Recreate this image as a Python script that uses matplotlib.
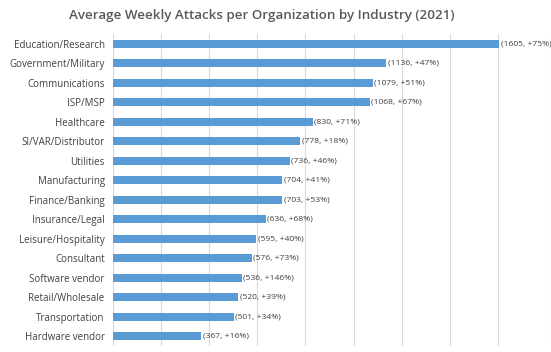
import matplotlib.pyplot as plt

industries = ["Education/Research", "Government/Military", "Communications", "ISP/MSP",
              "Healthcare", "SI/VAR/Distributor", "Utilities", "Manufacturing",
              "Finance/Banking", "Insurance/Legal", "Leisure/Hospitality", "Consultant",
              "Software vendor", "Retail/Wholesale", "Transportation", "Hardware vendor"]
attacks = [1605, 1136, 1079, 1068, 830, 778, 736, 704, 703, 636, 595, 576, 536, 520, 501, 367]
growth = ["+75%", "+47%", "+51%", "+67%", "+71%", "+18%", "+46%", "+41%",
          "+53%", "+68%", "+40%", "+73%", "+146%", "+39%", "+34%", "+16%"]

plt.rcParams['font.family'] = ['Open Sans', 'DejaVu Sans']

fig = plt.figure(figsize=(5.51, 3.52), dpi=100)
ax = fig.add_axes([113 / 551, 6 / 352, 433 / 551, 312 / 352])

y = list(range(len(industries)))
ax.barh(y, attacks, height=0.4, color='#5B9BD5', zorder=2)

for yi, v, g in zip(y, attacks, growth):
    ax.text(v + 6, yi, f"({v}, {g})", va='center', ha='left', fontsize=6.1, color='#404040', zorder=3)

ax.set_xlim(0, 1800)
ax.set_ylim(len(industries) - 0.5, -0.5)
ax.set_xticks(range(0, 1801, 200))
ax.set_xticklabels([])
ax.tick_params(axis='x', length=0)
ax.tick_params(axis='y', length=0, pad=6, labelsize=7, labelcolor='#404040')
ax.set_yticks(y)
ax.set_yticklabels(industries)
ax.grid(axis='x', color='#D9D9D9', linewidth=0.8, zorder=0)
for s in ax.spines.values():
    s.set_visible(False)

fig.text(262 / 551, 1 - 16 / 352, "Average Weekly Attacks per Organization by Industry (2021)",
         ha='center', va='center', fontsize=9.6, color='#595959', weight='semibold')

fig.savefig("out.png", dpi=100)
